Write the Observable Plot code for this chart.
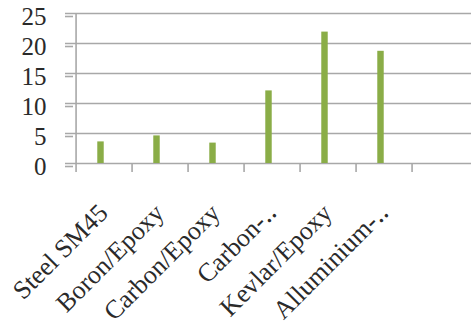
<!DOCTYPE html>
<html>
<head>
<meta charset="utf-8">
<script src="https://cdn.jsdelivr.net/npm/d3@7"></script>
<script src="https://cdn.jsdelivr.net/npm/@observablehq/plot@0.6"></script>
<style>
  html, body { margin: 0; padding: 0; background: #fff; }
  #chart svg { display: block; }
</style>
</head>
<body>
<div id="chart"></div>
<script>
const categories = ["Steel SM45", "Boron/Epoxy", "Carbon/Epoxy", "Carbon-\u2025", "Kevlar/Epoxy", "Alluminium-\u2025", ""];
const values = [3.6, 4.6, 3.4, 12.1, 21.9, 18.7];
const yTicks = [0, 5, 10, 15, 20, 25];

const data = values.map((v, i) => ({cat: categories[i], value: v}));

const W = 471, H = 326;
const mL = 73, mR = 0, mT = 13, mB = 163;
const band = (W - mL - mR) / categories.length;
const gray = "#a8a8a8";
const textColor = "#2a2a2a";
const font = "'Liberation Serif', 'Times New Roman', serif";

const chart = Plot.plot({
  width: W,
  height: H,
  marginLeft: mL,
  marginRight: mR,
  marginTop: mT,
  marginBottom: mB,
  style: {fontFamily: font, background: "#fff"},
  x: {type: "band", domain: categories, padding: 0, axis: null, label: null},
  y: {domain: [0, 25], axis: null, label: null},
  marks: [
    Plot.gridY(yTicks, {stroke: gray, strokeOpacity: 1, strokeWidth: 1.6, insetLeft: -8}),
    Plot.axisY(yTicks, {label: null, tickSize: 8, tickPadding: 19, stroke: gray, strokeWidth: 1.6, fill: textColor, fontSize: 25, dy: 3, tickFormat: d => String(d)}),
    Plot.ruleX([categories[0]], {dx: -band / 2, stroke: gray, strokeWidth: 1.6}),
    Plot.axisX(categories, {label: null, tickSize: 9, text: null, dx: -band / 2, stroke: gray, strokeWidth: 1.6}),
    Plot.barY(data, {x: "cat", y: "value", fill: "#8aad47", insetLeft: band / 2 - 3.65 - 3.5, insetRight: band / 2 - 3.65 + 3.5}),
    Plot.text(categories, {x: d => d, text: d => d, frameAnchor: "bottom", rotate: -45, textAnchor: "end", lineAnchor: "bottom", dx: 5, dy: 51, fontSize: 26, fill: textColor})
  ]
});
document.getElementById("chart").appendChild(chart);
</script>
</body>
</html>
